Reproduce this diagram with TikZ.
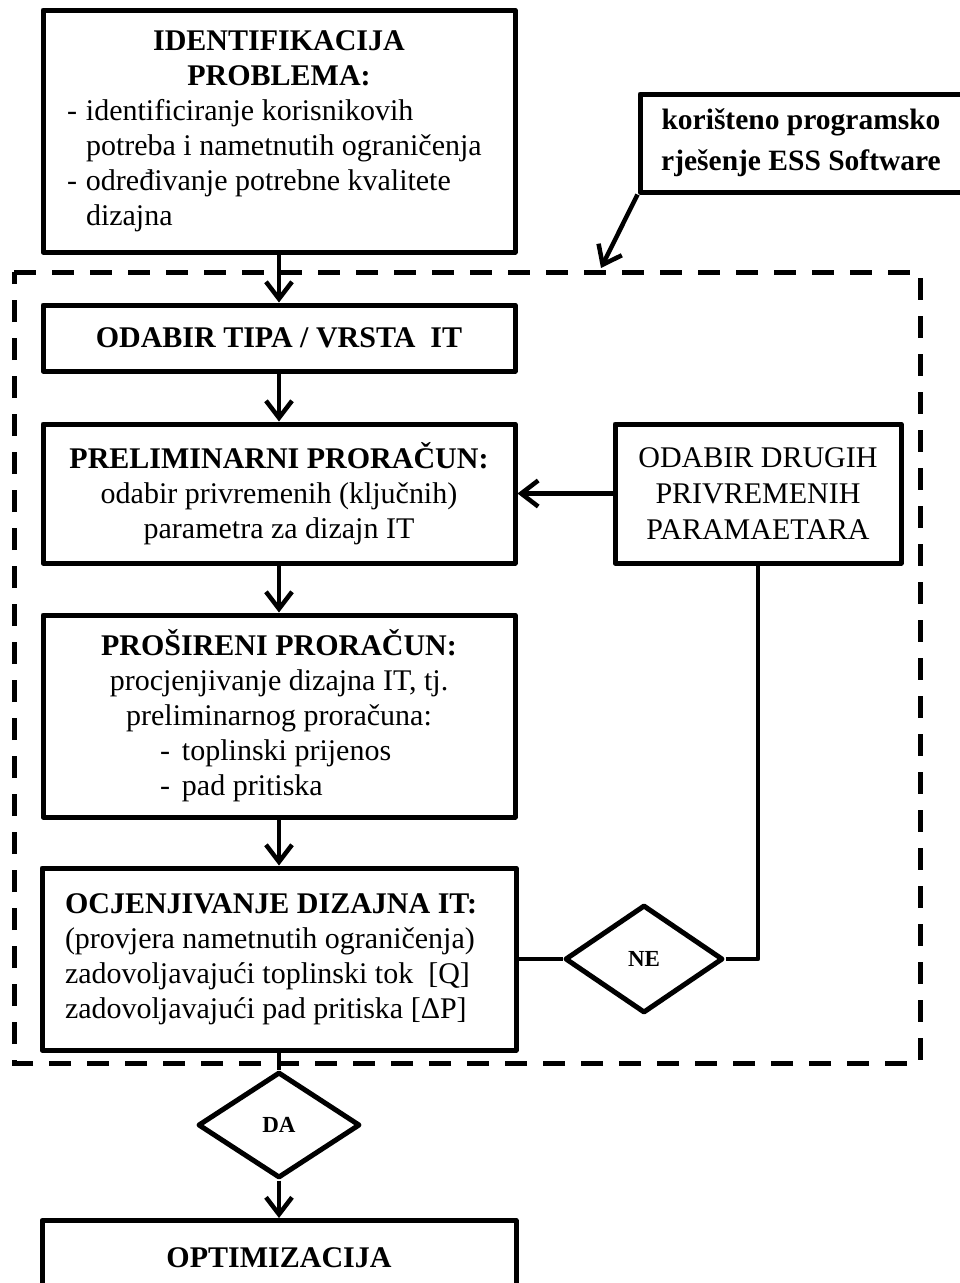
\documentclass[tikz,border=0pt]{standalone}
\usepackage{fontspec}
\setmainfont{Liberation Serif}
\usetikzlibrary{arrows.meta,shapes.geometric}
\begin{document}
\begin{tikzpicture}[x=1pt,y=-1pt,
  box/.style={draw,line width=5pt,line join=round,inner sep=0pt,align=center,
    font=\fontsize{30}{35}\selectfont},
  dec/.style={draw,diamond,line width=5pt,line join=round,inner sep=0pt,
    font=\bfseries\fontsize{23}{26}\selectfont},
  conn/.style={line width=4.5pt},
  arr/.style={conn,-{Straight Barb[length=17pt,width=26pt]}},
  dashframe/.style={line width=5pt,dash pattern=on 22pt off 16pt}
]
\useasboundingbox (0,0) rectangle (960,1283);
\clip (0,0) rectangle (960,1283);

% dashed frame
\draw[dashframe] (14,272) -- (920,272) -- (920,1063) -- (14,1063) -- cycle;

% boxes
\node[box,minimum width=472pt,minimum height=242pt] (top) at (279,131)
  {\textbf{IDENTIFIKACIJA}\\
   \textbf{PROBLEMA:}\\
   \makebox[424pt][l]{\makebox[19pt][l]{-}identificiranje korisnikovih}\\
   \makebox[424pt][l]{\hspace*{19pt}potreba i nametnutih ograničenja}\\
   \makebox[424pt][l]{\makebox[19pt][l]{-}određivanje potrebne kvalitete}\\
   \makebox[424pt][l]{\hspace*{19pt}dizajna}};

\node[box,font=\bfseries\fontsize{30}{35}\selectfont,minimum width=472pt,minimum height=66pt] (odabir) at (279,338)
  {ODABIR TIPA / VRSTA\ \ IT};

\node[box,minimum width=472pt,minimum height=139pt] (prelim) at (279,493.5)
  {\textbf{PRELIMINARNI PRORAČUN:}\\
   odabir privremenih (ključnih)\\
   parametra za dizajn IT};

\node[box,minimum width=472pt,minimum height=202pt] (pros) at (279,716)
  {\textbf{PROŠIRENI PRORAČUN:}\\
   procjenjivanje dizajna IT, tj.\\
   preliminarnog proračuna:\\
   \makebox[238pt][l]{\makebox[22pt][l]{-}toplinski prijenos}\\
   \makebox[238pt][l]{\makebox[22pt][l]{-}pad pritiska}};

\node[box,align=flush left,text width=428pt,minimum width=474pt,minimum height=182pt] (ocj) at (279,959)
  {\textbf{OCJENJIVANJE DIZAJNA IT:}\\
   (provjera nametnutih ograničenja)\\
   zadovoljavajući toplinski tok\ \ [Q]\\
   zadovoljavajući pad pritiska [ΔP]};

\node[box,minimum width=286pt,minimum height=139pt,font=\fontsize{30}{36}\selectfont] (drugi) at (758,493.5)
  {ODABIR DRUGIH\\PRIVREMENIH\\PARAMAETARA};

\node[box,minimum width=322pt,minimum height=98pt,font=\bfseries\fontsize{29.5}{41}\selectfont] (callout) at (801,143)
  {korišteno programsko\\rješenje ESS Software};

\node[dec,minimum width=158pt,minimum height=108pt] (ne) at (644,959) {NE};
\node[dec,minimum width=162pt,minimum height=106pt] (da) at (279,1125) {DA};

\node[box,font=\bfseries\fontsize{30}{35}\selectfont,anchor=north,text height=47pt,text depth=80pt,minimum width=474pt] (opt) at (279,1218)
  {OPTIMIZACIJA};

% connectors
\coordinate (tip) at (601,268);
\draw[arr] (top.south) -- (odabir.north);
\draw[arr] (odabir.south) -- (prelim.north);
\draw[arr] (prelim.south) -- (pros.north);
\draw[arr] (pros.south) -- (ocj.north);
\draw[arr] (drugi.west) -- (prelim.east);
\draw[conn] (ocj.east) -- (ne.west);
\draw[conn,line join=round] (ne.east) -| (drugi.south);
\draw[conn] (ocj.south) -- (da.north);
\draw[arr] (da.south) -- (opt.north);
\draw[arr] (callout.south west) -- (tip);
\end{tikzpicture}
\end{document}
